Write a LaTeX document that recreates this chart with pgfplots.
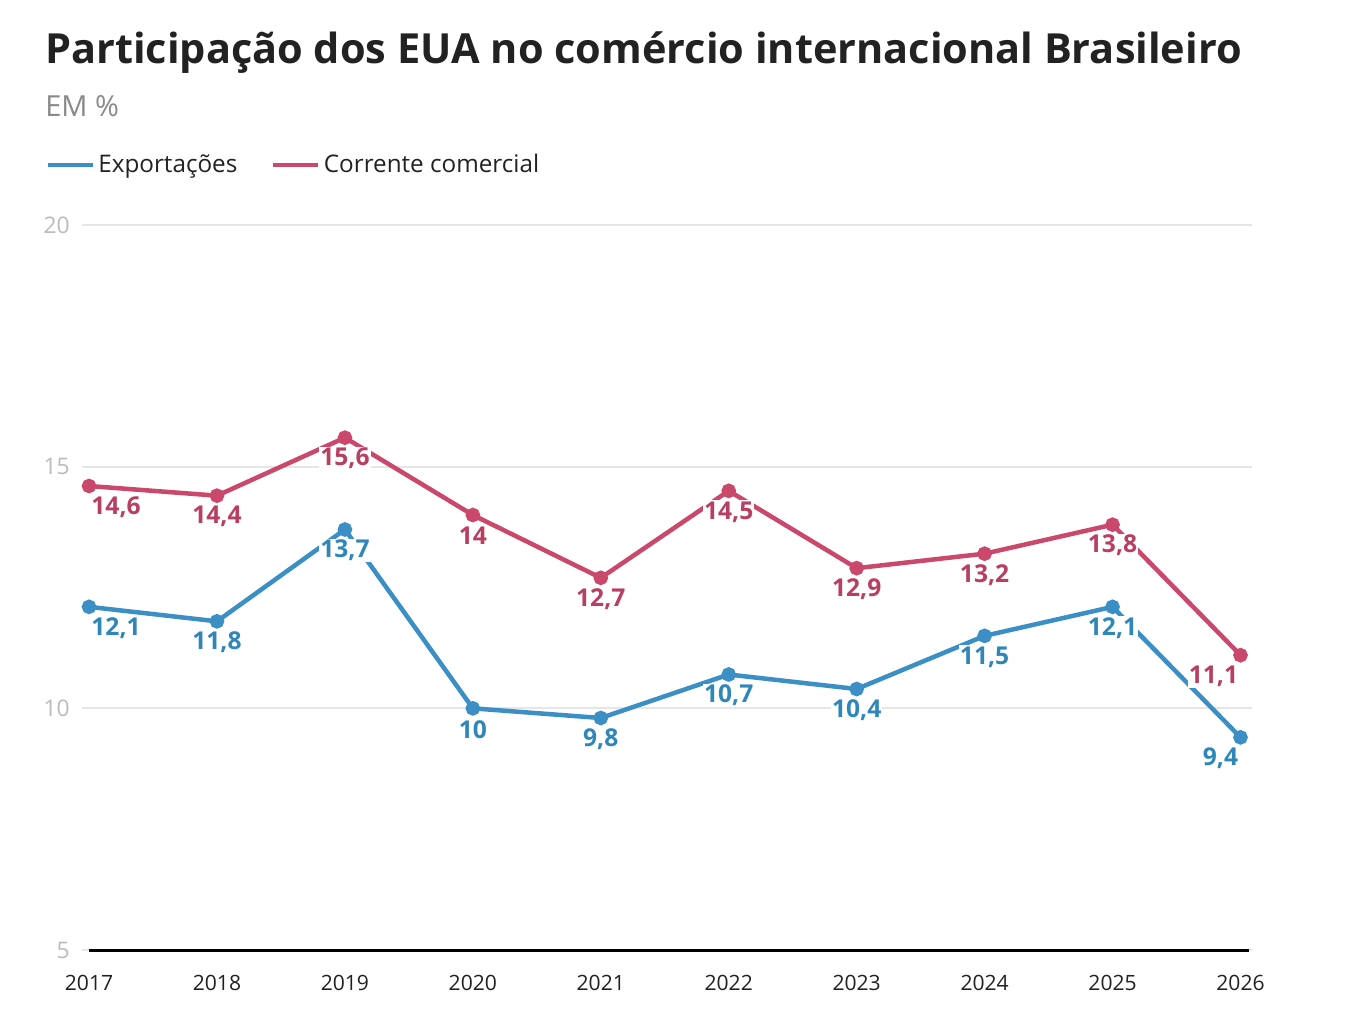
\documentclass[border=0pt]{standalone}
\usepackage{fontspec}
\setmainfont{Open Sans}
\usepackage{pgfplots}
\pgfplotsset{compat=1.18}
\newlength\pxu
\setlength\pxu{0.2mm}
\definecolor{cblue}{HTML}{3B8FC4}
\definecolor{cred}{HTML}{C9486B}
\definecolor{lblue}{HTML}{2F86B8}
\definecolor{lred}{HTML}{B83F62}
\definecolor{gridc}{HTML}{E6E6E6}
\definecolor{tickc}{HTML}{BBBBBB}
\definecolor{subc}{HTML}{8A8A8A}
\definecolor{titc}{HTML}{222222}
\begin{document}
\begin{tikzpicture}
\fill[white] (0,0) rectangle (1364\pxu,-1030\pxu);
\path[use as bounding box] (0,0) rectangle (1364\pxu,-1030\pxu);
\node[anchor=base west, inner sep=0, text=titc] at (45\pxu,-63\pxu) {\fontsize{23.6pt}{28pt}\selectfont\bfseries Participação dos EUA no comércio internacional Brasileiro};
\node[anchor=base west, inner sep=0, text=subc] at (45\pxu,-116\pxu) {\fontsize{16.5pt}{19pt}\selectfont EM \%};
\begin{axis}[
  at={(82\pxu,-950\pxu)}, anchor=south west,
  scale only axis, width=1170\pxu, height=725\pxu,
  xmin=2016.945, xmax=2026.09, ymin=5, ymax=20,
  clip=false,
  axis line style={draw=none},
  major tick length=0pt,
  xtick={2017,2018,2019,2020,2021,2022,2023,2024,2025,2026},
  ytick={5,10,15,20},
  ymajorgrids, grid style={gridc, line width=2\pxu},
  /pgf/number format/assume math mode=true,
  /pgf/number format/1000 sep={},
  xticklabel style={anchor=center, yshift=-33\pxu, inner sep=0pt, font=\fontsize{12pt}{14pt}\selectfont, text=titc},
  yticklabel style={anchor=east, xshift=-12\pxu, inner sep=0pt, font=\fontsize{13pt}{15pt}\selectfont, text=tickc},
  legend columns=2,
  legend style={at={(0,1)}, anchor=west, xshift=-37\pxu, yshift=60\pxu, draw=none, fill=none, inner sep=0pt,
    font=\fontsize{13.8pt}{16pt}\selectfont, text=titc,
    /tikz/every even column/.append style={column sep=30\pxu}},
  legend image code/.code={\draw[#1, line width=4.5\pxu] (0,0) -- (45\pxu,0);},
  nodes near coords={\pgfmathprintnumber[use comma]{\pgfplotspointmeta}},
  every node near coord/.append style={anchor=center, yshift=-21\pxu, fill=white, inner sep=1\pxu, font=\fontsize{14pt}{16pt}\selectfont\bfseries},
]
\draw[black, line width=3\pxu] (axis cs:2017,5) -- (axis cs:2026.07,5);
\addplot[cblue, line width=4.5\pxu, mark=*, mark size=5\pxu, mark options={solid},
  every node near coord/.append style={text=lblue},
  coordinate style/.condition={\coordindex==0}{xshift=27\pxu},
  coordinate style/.condition={\coordindex==9}{xshift=-20\pxu}]
  coordinates {(2017,12.1) (2018,11.8) (2019,13.7) (2020,10) (2021,9.8) (2022,10.7) (2023,10.4) (2024,11.5) (2025,12.1) (2026,9.4)};
\addlegendentry{Exportações}
\addplot[cred, line width=4.5\pxu, mark=*, mark size=5\pxu, mark options={solid},
  every node near coord/.append style={text=lred},
  coordinate style/.condition={\coordindex==0}{xshift=27\pxu},
  coordinate style/.condition={\coordindex==9}{xshift=-27\pxu}]
  coordinates {(2017,14.6) (2018,14.4) (2019,15.6) (2020,14) (2021,12.7) (2022,14.5) (2023,12.9) (2024,13.2) (2025,13.8) (2026,11.1)};
\addlegendentry{Corrente comercial}
\end{axis}
\end{tikzpicture}
\end{document}
